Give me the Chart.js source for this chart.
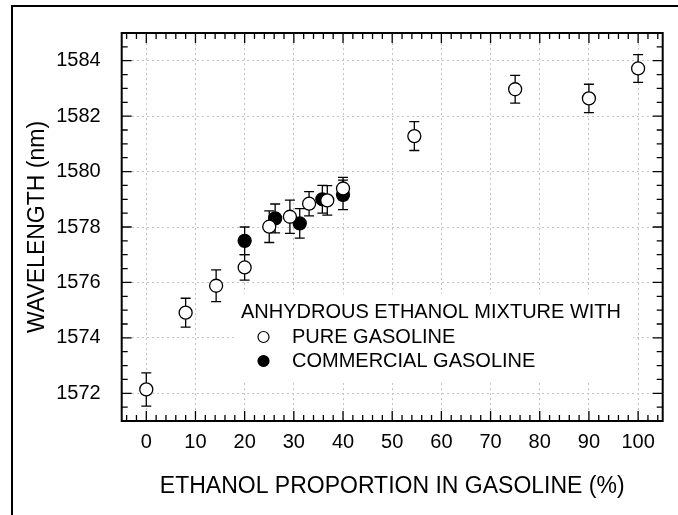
<!DOCTYPE html>
<html>
<head>
<meta charset="utf-8">
<script src="https://cdn.jsdelivr.net/npm/chart.js@4/dist/chart.umd.min.js"></script>
<style>
html, body { margin: 0; padding: 0; background: #fff; }
#wrap { width: 678px; height: 515px; }
</style>
</head>
<body>
<div id="wrap"><canvas id="chart" width="678" height="515"></canvas></div>
<script>
// ethanol proportion (%), wavelength (nm), error bar half-height (nm)
var pureX   = [0, 8, 14.2, 20, 25, 29.2, 33.1, 36.8, 40, 54.5, 75, 90, 100];
var pureY   = [1572.14, 1574.91, 1575.88, 1576.54, 1578.01, 1578.37, 1578.84, 1578.96, 1579.39, 1581.28, 1582.97, 1582.64, 1583.72];
var pureErr = [0.6, 0.52, 0.57, 0.46, 0.57, 0.6, 0.44, 0.53, 0.4, 0.52, 0.5, 0.51, 0.5];

var commX   = [20, 26.2, 31.2, 35.8, 40];
var commY   = [1577.5, 1578.31, 1578.13, 1579.0, 1579.16];
var commErr = [0.5, 0.52, 0.53, 0.5, 0.53];

var xTicks = [0, 10, 20, 30, 40, 50, 60, 70, 80, 90, 100];
var yTicks = [1572, 1574, 1576, 1578, 1580, 1582, 1584];
var xMinorStep = 2;
var yMinorStep = 0.5;

var legendTitle = "ANHYDROUS ETHANOL MIXTURE WITH";

var FONT = "'Liberation Sans', Arial, sans-serif";

function toPoints(xs, ys) {
    return xs.map(function(x, i) { return { x: x, y: ys[i] }; });
}

function plainLabel(value) {
    return String(value);
}

//ERROR BARS UNDER THE MARKERS
var errorBars = {
    id: 'errorBars',
    beforeDatasetsDraw: function(chart) {
        var ctx = chart.ctx;
        var xs = chart.scales.x, ys = chart.scales.y;
        ctx.save();
        ctx.strokeStyle = '#000';
        ctx.lineWidth = 1.3;
        chart.data.datasets.forEach(function(ds) {
            ds.data.forEach(function(p, i) {
                var px = xs.getPixelForValue(p.x);
                var top = ys.getPixelForValue(p.y + ds.errors[i]);
                var bot = ys.getPixelForValue(p.y - ds.errors[i]);
                ctx.beginPath();
                ctx.moveTo(px, top); ctx.lineTo(px, bot);
                ctx.moveTo(px - 5, top); ctx.lineTo(px + 5, top);
                ctx.moveTo(px - 5, bot); ctx.lineTo(px + 5, bot);
                ctx.stroke();
            });
        });
        ctx.restore();
    }
};

//BOX, INWARD TICKS, OUTER FRAME, LEGEND
var frameAndLegend = {
    id: 'frameAndLegend',
    beforeDatasetsDraw: function(chart) {
        // legend background hides the dotted grid behind it
        var ctx = chart.ctx;
        ctx.save();
        ctx.fillStyle = '#ffffff';
        ctx.fillRect(237, 294, 396, 86);
        ctx.restore();
    },
    afterDraw: function(chart) {
        var ctx = chart.ctx;
        var a = chart.chartArea;
        var xs = chart.scales.x, ys = chart.scales.y;
        ctx.save();
        ctx.strokeStyle = '#000';

        // outer figure frame
        ctx.lineWidth = 2;
        ctx.strokeRect(12, 6, 800, 800);

        // plot box
        ctx.lineWidth = 2;
        ctx.strokeRect(a.left, a.top, a.right - a.left, a.bottom - a.top);

        ctx.lineWidth = 1.3;
        ctx.beginPath();
        var i, v, p, len;
        for (i = Math.ceil(xs.min / xMinorStep); i * xMinorStep <= xs.max; i++) {
            v = i * xMinorStep;
            p = xs.getPixelForValue(v);
            if (p <= a.left + 1 || p >= a.right - 1) continue;
            len = xTicks.indexOf(v) >= 0 ? 10 : 6;
            ctx.moveTo(p, a.bottom); ctx.lineTo(p, a.bottom - len);
            ctx.moveTo(p, a.top); ctx.lineTo(p, a.top + len);
        }
        for (i = Math.ceil(ys.min / yMinorStep); i * yMinorStep <= ys.max; i++) {
            v = i * yMinorStep;
            p = ys.getPixelForValue(v);
            if (p <= a.top + 1 || p >= a.bottom - 1) continue;
            len = yTicks.indexOf(v) >= 0 ? 10 : 6;
            ctx.moveTo(a.left, p); ctx.lineTo(a.left + len, p);
            ctx.moveTo(a.right, p); ctx.lineTo(a.right - len, p);
        }
        ctx.stroke();

        // legend inside the plot
        ctx.fillStyle = '#000';
        ctx.font = '20px ' + FONT;
        ctx.textAlign = 'left';
        ctx.textBaseline = 'middle';
        ctx.fillText(legendTitle, 241, 312);
        chart.data.datasets.forEach(function(ds, k) {
            var ly = 337 + k * 24;
            ctx.beginPath();
            ctx.arc(263.5, ly, 5.5, 0, Math.PI * 2);
            ctx.fillStyle = ds.backgroundColor;
            ctx.fill();
            ctx.lineWidth = 1.2;
            ctx.stroke();
            ctx.fillStyle = '#000';
            ctx.fillText(ds.label, 292, ly);
        });
        ctx.restore();
    }
};

var ctx = document.getElementById("chart").getContext('2d');
var chart = new Chart(ctx, {
    type: 'scatter',
    data: {
        datasets: [{
            label: 'PURE GASOLINE',
            data: toPoints(pureX, pureY),
            errors: pureErr,
            backgroundColor: '#ffffff',
            borderColor: '#000000',
            borderWidth: 1.3,
            pointRadius: 6.5,
            pointHoverRadius: 6.5
        }, {
            label: 'COMMERCIAL GASOLINE',
            data: toPoints(commX, commY),
            errors: commErr,
            backgroundColor: '#000000',
            borderColor: '#000000',
            borderWidth: 1.3,
            pointRadius: 6.5,
            pointHoverRadius: 6.5
        }]
    },
    options: {
        responsive: false,
        animation: false,
        events: [],
        layout: { padding: { left: 12, top: 25, right: 15.3, bottom: 0 } },
        plugins: {
            legend: { display: false },
            tooltip: { enabled: false }
        },
        scales: {
            x: {
                type: 'linear',
                min: -5,
                max: 105,
                afterBuildTicks: function(scale) {
                    scale.ticks = xTicks.map(function(v) { return { value: v }; });
                },
                afterFit: function(scale) { scale.height = 94; },
                ticks: { color: '#000', font: { family: FONT, size: 20 }, padding: 9, maxRotation: 0, callback: plainLabel },
                grid: { color: '#c4c4c4', lineWidth: 1, drawTicks: false },
                border: { display: false, dash: [2, 3] },
                title: {
                    display: true,
                    text: 'ETHANOL PROPORTION IN GASOLINE (%)',
                    color: '#000',
                    font: { family: FONT, size: 23 },
                    padding: { top: 0, bottom: 15 }
                }
            },
            y: {
                type: 'linear',
                min: 1571,
                max: 1585,
                afterBuildTicks: function(scale) {
                    scale.ticks = yTicks.map(function(v) { return { value: v }; });
                },
                afterFit: function(scale) { scale.width = 109.7; },
                ticks: { color: '#000', font: { family: FONT, size: 20 }, padding: 21, callback: plainLabel },
                grid: { color: '#c4c4c4', lineWidth: 1, drawTicks: false },
                border: { display: false, dash: [2, 3] },
                title: {
                    display: true,
                    text: 'WAVELENGTH (nm)',
                    color: '#000',
                    font: { family: FONT, size: 23 },
                    padding: { top: 12, bottom: 0 }
                }
            }
        }
    },
    plugins: [frameAndLegend, errorBars]
});
</script>
</body>
</html>
